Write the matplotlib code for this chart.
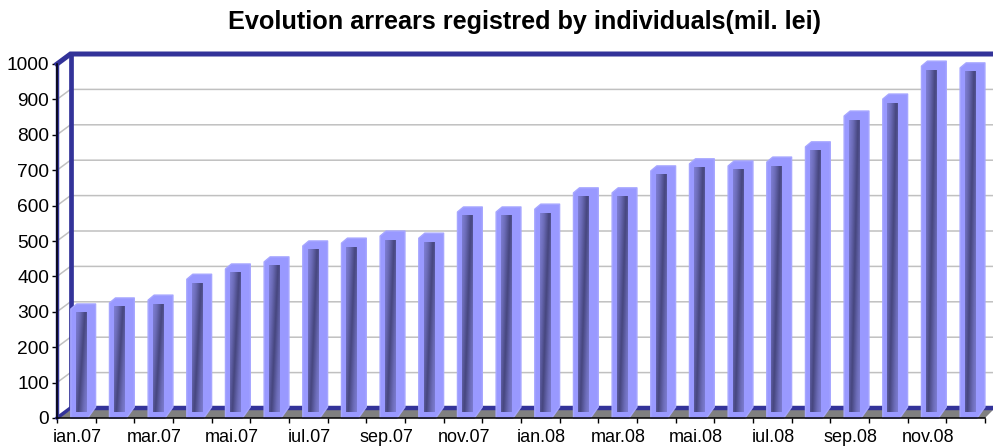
import matplotlib
matplotlib.use("Agg")
import matplotlib.pyplot as plt
import numpy as np
from matplotlib.colors import LinearSegmentedColormap
from matplotlib.patches import Polygon

months = ['ian.07', 'feb.07', 'mar.07', 'apr.07', 'mai.07', 'iun.07', 'iul.07', 'aug.07',
          'sep.07', 'oct.07', 'nov.07', 'dec.07', 'ian.08', 'feb.08', 'mar.08', 'apr.08',
          'mai.08', 'iun.08', 'iul.08', 'aug.08', 'sep.08', 'oct.08', 'nov.08', 'dec.08']
arrears = [308, 325, 333, 392, 421, 441, 486, 494, 514, 508, 582, 582,
           590, 636, 636, 698, 718, 712, 723, 766, 853, 901, 994, 989]
y_ticks = [0, 100, 200, 300, 400, 500, 600, 700, 800, 900, 1000]

W, H = 993, 447
BLUE = '#333399'
LILAC = '#9999ff'

plt.rcParams['font.family'] = ['Liberation Sans', 'DejaVu Sans']

fig = plt.figure(figsize=(W / 100, H / 100), dpi=100)
ax = fig.add_axes([57 / W, (H - 418) / H, 928 / W, 354 / H])
ax.set_xlim(0, len(months))
ax.set_ylim(0, 1000)

# pixel sizes expressed in data units
px = len(months) / 928
py = 1000 / 354
dx, dy = 13.5 * px, 10 * py  # depth of the fake 3d box
x_end = len(months) + 8 * px

# back wall grid
for v in y_ticks[1:-1]:
    ax.plot([0, dx, x_end], [v, v + dy, v + dy], color='#c0c0c0', lw=1.1,
            clip_on=False, zorder=1, solid_joinstyle='miter')

# floor and wall frame
ax.add_patch(Polygon([(0, 0), (dx, 8 * py), (x_end, 8 * py), (len(months), 0)],
                     fc='#808080', ec='none', clip_on=False, zorder=2))
ax.plot([dx, x_end], [10 * py, 10 * py], color=BLUE, lw=3.2, clip_on=False,
        zorder=2, solid_capstyle='butt')
ax.plot([0, dx], [0, 10 * py], color=BLUE, lw=2.5, clip_on=False, zorder=2)
ax.plot([dx, dx], [10 * py, 1000 + dy], color=BLUE, lw=3.4, clip_on=False, zorder=2,
        solid_capstyle='butt')
ax.plot([0, 0], [0, 1000], color=BLUE, lw=2.5, clip_on=False, zorder=2, solid_capstyle='butt')
ax.plot([0, dx, x_end], [1000, 1000 + dy, 1000 + dy], color=BLUE, lw=3.6,
        clip_on=False, zorder=2, solid_joinstyle='miter')

# bars: lilac body with a dark core, the dark band runs diagonally down the core
cmap = LinearSegmentedColormap.from_list('core', ['#8484dc', '#6c6cb8', '#46467e'])
xn, yn = np.meshgrid(np.linspace(0, 1, 24), np.linspace(1, 0, 120))
shade = np.clip(1 - np.abs(xn - (0.2 + 0.65 * yn)) / 0.95, 0, 1)
for i, v in enumerate(arrears):
    left = i + 13.8 * px
    right = i + 38.6 * px
    top = v + 5 * py
    bottom = -0.2 * py
    ax.add_patch(Polygon([(left, bottom), (right - 8 * px, bottom), (right, 11 * py),
                          (right, top), (left + 6 * px, top), (left, v)],
                         fc=LILAC, ec='#a6a6ff', lw=1, clip_on=False, zorder=3,
                         joinstyle='round'))
    ax.imshow(shade, extent=[i + 18.5 * px, i + 29 * px, 6 * py, v - 4 * py], cmap=cmap,
              vmin=0, vmax=1, aspect='auto', zorder=4, interpolation='bilinear')
ax.set_xlim(0, len(months))
ax.set_ylim(0, 1000)

ax.spines[['top', 'right']].set_visible(False)
ax.spines['left'].set_linewidth(1.1)
ax.spines['bottom'].set_linewidth(1.1)
ax.spines['left'].set_zorder(5)
ax.spines['bottom'].set_zorder(5)
ax.patch.set_alpha(0)

ax.set_yticks(y_ticks)
ax.tick_params(axis='y', labelsize=13.8, length=3.6, width=1, pad=2)
ax.set_xticks(np.arange(len(months) + 1))
ax.set_xticklabels([])
ax.tick_params(axis='x', length=3.6, width=1)
for i in range(0, len(months), 2):
    ax.annotate(months[i], (i + 0.5, 0), xytext=(1, -20), textcoords='offset pixels',
                ha='center', va='center', fontsize=13, annotation_clip=False)

fig.text(525 / W, (H - 22) / H, 'Evolution arrears registred by individuals(mil. lei)',
         ha='center', va='center', fontsize=18.2, fontweight='bold')

fig.savefig('out.png', dpi=100)
